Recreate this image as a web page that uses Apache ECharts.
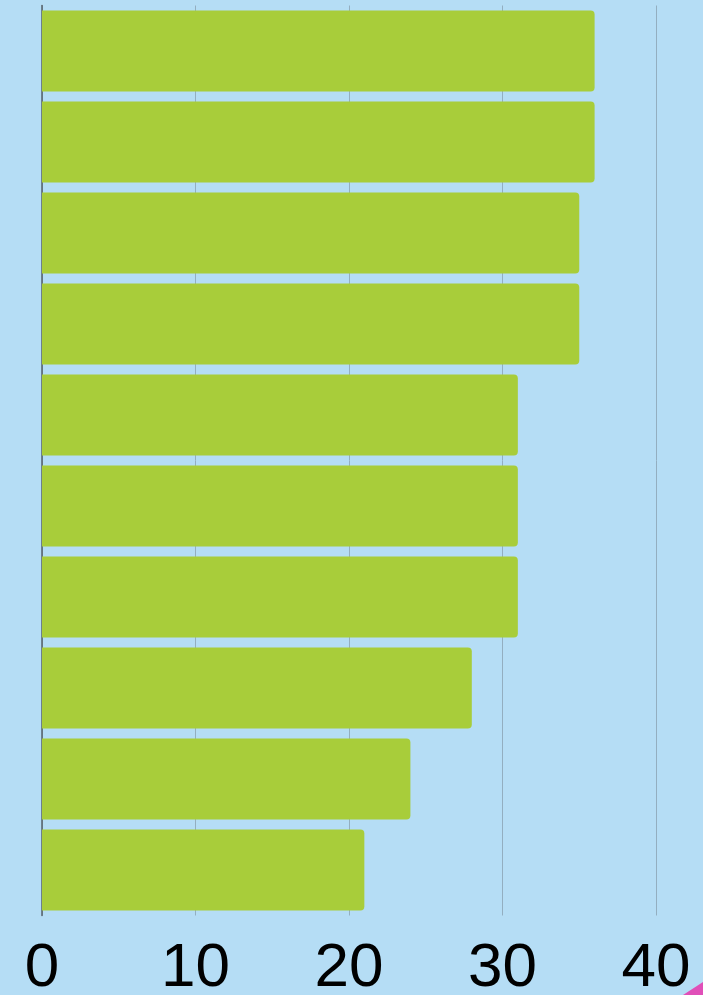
<!DOCTYPE html>
<html>
<head>
<meta charset="utf-8">
<script src="https://cdn.jsdelivr.net/npm/echarts@6/dist/echarts.min.js"></script>
<style>
  html, body { margin: 0; padding: 0; background: #b5ddf5; }
  #chart { width: 703px; height: 995px; }
</style>
</head>
<body>
<div id="chart"></div>
<script>
// categories are not labelled in the picture, top to bottom
const categories = ['A', 'B', 'C', 'D', 'E', 'F', 'G', 'H', 'I', 'J'];
const values = [36, 36, 35, 35, 31, 31, 31, 28, 24, 21];
const xTicks = [0, 10, 20, 30, 40];

const chart = echarts.init(document.getElementById('chart'));

chart.setOption({
  backgroundColor: '#b5ddf5',
  animation: false,
  grid: {
    left: 42,
    right: 703 - 656,
    top: 5.5,
    bottom: 995 - 915.5,
    outerBoundsMode: 'none'
  },
  xAxis: {
    type: 'value',
    min: xTicks[0],
    max: xTicks[xTicks.length - 1],
    interval: 10,
    axisLine: { show: false },
    axisTick: { show: false },
    splitLine: { lineStyle: { color: '#93aec0', width: 1 } },
    axisLabel: {
      color: '#000',
      fontSize: 62,
      fontFamily: 'Liberation Sans',
      margin: 22
    }
  },
  yAxis: {
    type: 'category',
    data: categories,
    inverse: true,
    axisLine: { show: true, lineStyle: { color: '#55606a', width: 1.5 } },
    axisTick: { show: false },
    axisLabel: { show: false }
  },
  series: [{
    type: 'bar',
    data: values,
    barCategoryGap: '11%',
    itemStyle: {
      color: '#a8cd3a',
      borderRadius: [0, 4, 4, 0]
    }
  }],
  graphic: [{
    type: 'polygon',
    shape: { points: [[683, 995], [703, 982], [703, 995]] },
    style: { fill: '#e04fb8' }
  }]
});
</script>
</body>
</html>
